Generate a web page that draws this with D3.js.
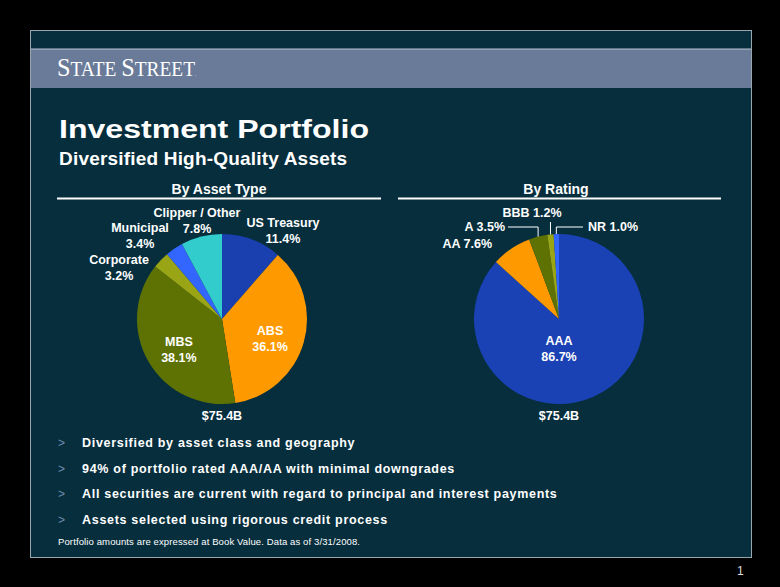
<!DOCTYPE html>
<html>
<head>
<meta charset="utf-8">
<script src="https://cdn.jsdelivr.net/npm/d3@7"></script>
<style>
  body { margin: 0; background: #000; }
  text { font-family: Arial, "Liberation Sans", sans-serif; }
</style>
</head>
<body>
<script>
// data
var assetTypes = ['US Treasury', 'ABS', 'MBS', 'Corporate', 'Municipal', 'Clipper / Other'];
var assetShares = [11.4, 36.1, 38.1, 3.2, 3.4, 7.8];
var ratings = ['AAA', 'AA', 'A', 'BBB', 'NR'];
var ratingShares = [86.7, 7.6, 3.5, 1.2, 1.0];
var totalLabel = '$75.4B';
var bullets = [
  'Diversified by asset class and geography',
  '94% of portfolio rated AAA/AA with minimal downgrades',
  'All securities are current with regard to principal and interest payments',
  'Assets selected using rigorous credit process'
];
var footnote = 'Portfolio amounts are expressed at Book Value. Data as of 3/31/2008.';

var assetColors = d3.scaleOrdinal().domain(assetTypes)
    .range(['#1a3fae', '#ff9900', '#5e7203', '#9aa515', '#3366ff', '#33cccc']);
var ratingColors = d3.scaleOrdinal().domain(ratings)
    .range(['#1a42b4', '#ff9900', '#5e7203', '#9aa515', '#3366ff']);

var svg = d3.select('body').append('svg')
    .attr('width', 780)
    .attr('height', 587);

svg.append('rect').attr('width', 780).attr('height', 587).attr('fill', '#000');

// slide panel
svg.append('rect')
    .attr('x', 30.5).attr('y', 30.5)
    .attr('width', 721).attr('height', 527)
    .attr('fill', '#062e3d')
    .attr('stroke', '#9aa6ae');

svg.append('rect')
    .attr('x', 31).attr('y', 49)
    .attr('width', 720).attr('height', 39)
    .attr('fill', '#6a7b99');
svg.append('line')
    .attr('x1', 31).attr('x2', 751).attr('y1', 49).attr('y2', 49)
    .attr('stroke', '#b9c3cf');

// logo, big first letters and smaller caps
var logo = svg.append('text')
    .attr('x', 57).attr('y', 76)
    .attr('fill', '#fff')
    .attr('textLength', 138)
    .attr('lengthAdjust', 'spacingAndGlyphs')
    .style('font-family', '"Liberation Serif", "Times New Roman", serif');
[['S', 25], ['TATE ', 20], ['S', 25], ['TREET', 20]].forEach(function(p) {
  logo.append('tspan').style('font-size', p[1] + 'px').text(p[0]);
});
svg.append('text')
    .attr('x', 195).attr('y', 76)
    .attr('fill', '#fff')
    .style('font-size', '5px')
    .text('.');

svg.append('text')
    .attr('x', 59).attr('y', 138)
    .attr('fill', '#fff')
    .attr('textLength', 310)
    .attr('lengthAdjust', 'spacingAndGlyphs')
    .style('font-size', '26px').style('font-weight', 'bold')
    .text('Investment Portfolio');
svg.append('text')
    .attr('x', 59).attr('y', 165)
    .attr('fill', '#fff')
    .attr('textLength', 288)
    .style('font-size', '19px').style('font-weight', 'bold')
    .text('Diversified High-Quality Assets');

function drawPie(cx, cy, title, lineX1, lineX2, names, values, color) {
  var g = svg.append('g').attr('transform', 'translate(' + cx + ',' + cy + ')');
  svg.append('text')
      .attr('x', cx - 3).attr('y', 194)
      .attr('text-anchor', 'middle')
      .attr('fill', '#fff')
      .style('font-size', '14px').style('font-weight', 'bold')
      .text(title);
  svg.append('line')
      .attr('x1', lineX1).attr('x2', lineX2).attr('y1', 198.5).attr('y2', 198.5)
      .attr('stroke', '#fff').attr('stroke-width', 2);

  var pie = d3.pie().sort(null).value(function(d) { return d.v; });
  var arcs = pie(names.map(function(n, i) { return {name: n, v: values[i]}; }));
  var arc = d3.arc().innerRadius(0).outerRadius(85);
  g.selectAll('path').data(arcs).enter().append('path')
      .attr('d', arc)
      .attr('fill', function(d) { return color(d.data.name); });

  g.append('text')
      .attr('y', 101)
      .attr('text-anchor', 'middle')
      .attr('fill', '#fff')
      .style('font-size', '12.5px').style('font-weight', 'bold')
      .text(totalLabel);
  return {g: g, arcs: arcs};
}

function label(g, x, y, lines, anchor) {
  var t = g.append('text')
      .attr('text-anchor', anchor || 'middle')
      .attr('fill', '#fff')
      .style('font-size', '12.5px').style('font-weight', 'bold');
  lines.forEach(function(l, i) {
    t.append('tspan').attr('x', x).attr('y', y + i * 16).text(l);
  });
}

// left pie, by asset type
var left = drawPie(222, 319, 'By Asset Type', 57, 381, assetTypes, assetShares, assetColors);
var inner = d3.arc().innerRadius(50).outerRadius(50);
var leftPos = {
  'US Treasury': [61, -92],
  'Corporate': [-103, -55],
  'Municipal': [-82, -87],
  'Clipper / Other': [-25, -102]
};
left.arcs.forEach(function(a) {
  var txt = [a.data.name, d3.format('.1f')(a.data.v) + '%'];
  if (leftPos[a.data.name]) {
    label(left.g, leftPos[a.data.name][0], leftPos[a.data.name][1], txt);
  } else {
    var c = inner.centroid(a);
    label(left.g, c[0], c[1] + 2, txt);
  }
});

// right pie, by rating
var right = drawPie(559, 319, 'By Rating', 398, 721, ratings, ratingShares, ratingColors);
var edge = d3.arc().innerRadius(85).outerRadius(85);
right.arcs.forEach(function(a) {
  var name = a.data.name;
  var txt = name + ' ' + d3.format('.1f')(a.data.v) + '%';
  var c = edge.centroid(a);
  if (name === 'AAA') {
    label(right.g, 0, 26, [name, d3.format('.1f')(a.data.v) + '%']);
  } else if (name === 'AA') {
    label(right.g, -67, -71, [txt], 'end');
  } else if (name === 'A') {
    right.g.append('polyline')
        .attr('points', [[-51, -92], [c[0], -92], c].join(' '))
        .attr('fill', 'none').attr('stroke', '#fff');
    label(right.g, -54, -88, [txt], 'end');
  } else if (name === 'BBB') {
    right.g.append('line')
        .attr('x1', c[0]).attr('x2', c[0]).attr('y1', -97).attr('y2', c[1])
        .attr('stroke', '#fff');
    label(right.g, -27, -102, [txt]);
  } else {
    right.g.append('polyline')
        .attr('points', [c, [c[0], -92], [24, -92]].join(' '))
        .attr('fill', 'none').attr('stroke', '#fff');
    label(right.g, 29, -88, [txt], 'start');
  }
});

// bullets
bullets.forEach(function(b, i) {
  var y = 447 + i * 25.7;
  svg.append('text')
      .attr('x', 58).attr('y', y)
      .attr('fill', '#6f8fae')
      .style('font-size', '12px')
      .text('>');
  svg.append('text')
      .attr('x', 82).attr('y', y)
      .attr('fill', '#fff')
      .style('font-size', '12.5px').style('font-weight', 'bold')
      .style('letter-spacing', '0.7px')
      .text(b);
});

svg.append('text')
    .attr('x', 58).attr('y', 545)
    .attr('fill', '#fff')
    .style('font-size', '9.5px')
    .attr('textLength', 302)
    .text(footnote);

svg.append('text')
    .attr('x', 737).attr('y', 575)
    .attr('fill', '#ddd')
    .style('font-size', '12px')
    .text('1');
</script>
</body>
</html>
